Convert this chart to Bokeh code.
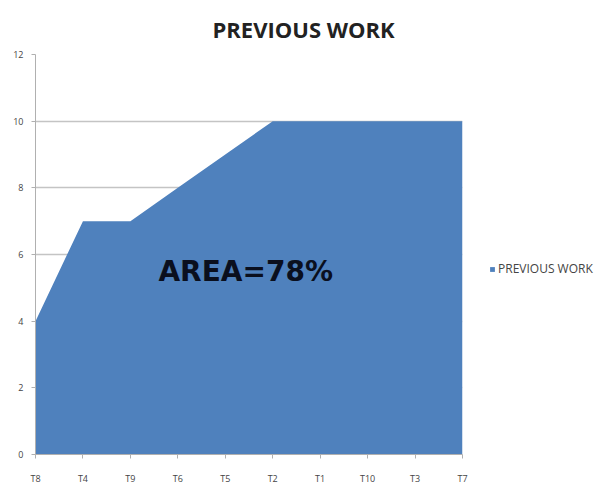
from bokeh.plotting import figure
from bokeh.models import FixedTicker, Legend, LegendItem, Label, Range1d
from bokeh.embed import file_html
from bokeh.resources import INLINE

categories = ["T8", "T4", "T9", "T6", "T5", "T2", "T1", "T10", "T3", "T7"]
previous_work = [4, 7, 7, 8, 9, 10, 10, 10, 10, 10]
y_ticks = [0, 2, 4, 6, 8, 10, 12]

xs = list(range(len(categories)))

p = figure(frame_width=427, frame_height=400, output_backend="svg", toolbar_location=None,
           x_range=Range1d(0, len(categories) - 1), y_range=Range1d(0, 12),
           min_border_left=35, min_border_right=135, min_border_top=53, min_border_bottom=5)

p.title.text = "PREVIOUS WORK"
p.title.align = "left"
p.title.text_font = "Open Sans"
p.title.text_font_size = "22px"
p.title.text_font_style = "bold"
p.title.text_color = "#222222"
p.title.offset = 177
p.title.standoff = 22

r = p.varea(x=xs, y1=[0] * len(xs), y2=previous_work, fill_color="#4F81BD", fill_alpha=1.0)

p.xaxis.ticker = FixedTicker(ticks=xs)
p.xaxis.major_label_overrides = {i: c for i, c in enumerate(categories)}
p.yaxis.ticker = FixedTicker(ticks=y_ticks)

for ax in (p.xaxis[0], p.yaxis[0]):
    ax.axis_line_color = "#b0b0b0"
    ax.major_tick_line_color = "#b0b0b0"
    ax.major_tick_in = 0
    ax.major_tick_out = 4
    ax.minor_tick_line_color = None
    ax.major_label_text_font = "Open Sans"
    ax.major_label_text_font_size = "9px"
    ax.major_label_text_color = "#444444"

p.xaxis.major_label_standoff = 13
p.yaxis.major_label_standoff = 8

p.xgrid.grid_line_color = None
p.ygrid.grid_line_color = "#c4c4c4"
p.ygrid.grid_line_width = 1.5
p.outline_line_color = None

p.add_layout(Label(x=4.43, y=5.5, text="AREA=78%", text_align="center", text_baseline="middle",
                   text_font="DejaVu Sans", text_font_style="bold", text_font_size="28px",
                   text_color="#0a0f1e"))

legend = Legend(items=[LegendItem(label="PREVIOUS WORK", renderers=[r])],
                location=(27, 177), border_line_color=None, background_fill_alpha=0,
                glyph_width=6, glyph_height=6, label_text_font="Open Sans",
                label_text_font_size="12px", label_text_color="#444444",
                margin=0, padding=4, spacing=0, label_standoff=3)
p.add_layout(legend, "right")

open("out.html", "w").write(file_html(p, INLINE))
